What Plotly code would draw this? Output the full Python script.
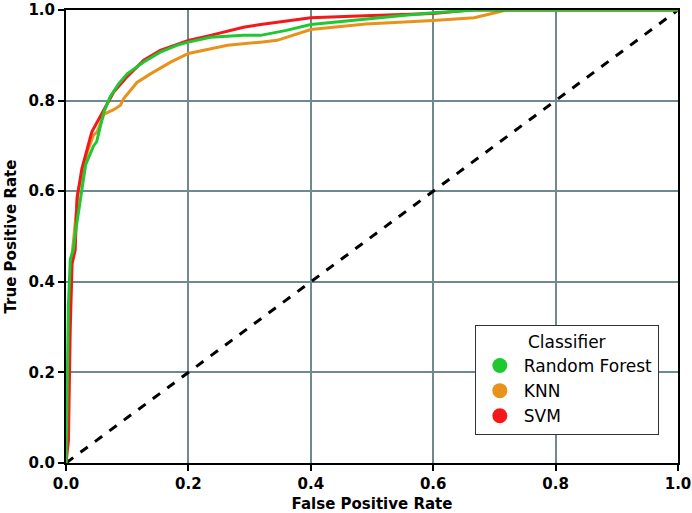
import plotly.graph_objects as go

# ROC curve points
rf_fpr = [0.0, 0.002, 0.004, 0.007, 0.012, 0.015, 0.02, 0.023, 0.032, 0.045, 0.05, 0.062,
          0.072, 0.086, 0.1, 0.127, 0.154, 0.181, 0.2, 0.236, 0.29, 0.318, 0.36, 0.4,
          0.45, 0.5, 0.55, 0.6, 0.67, 1.0]
rf_tpr = [0.0, 0.21, 0.35, 0.45, 0.47, 0.505, 0.55, 0.578, 0.658, 0.7, 0.709, 0.775,
          0.808, 0.837, 0.859, 0.885, 0.907, 0.922, 0.929, 0.94, 0.944, 0.944, 0.955, 0.968,
          0.975, 0.982, 0.988, 0.994, 1.0, 1.0]

knn_fpr = [0.0, 0.003, 0.006, 0.009, 0.013, 0.02, 0.035, 0.045, 0.051, 0.062, 0.078,
           0.089, 0.094, 0.116, 0.138, 0.171, 0.2, 0.236, 0.264, 0.318, 0.345, 0.4,
           0.49, 0.6, 0.667, 0.72, 1.0]
knn_tpr = [0.0, 0.12, 0.3, 0.45, 0.5, 0.6, 0.687, 0.724, 0.731, 0.77, 0.78,
           0.79, 0.804, 0.84, 0.859, 0.885, 0.904, 0.914, 0.922, 0.929, 0.933, 0.957,
           0.969, 0.977, 0.983, 1.0, 1.0]

svm_fpr = [0.0, 0.004, 0.007, 0.01, 0.015, 0.018, 0.026, 0.042, 0.045, 0.062, 0.078,
           0.1, 0.127, 0.154, 0.2, 0.236, 0.29, 0.318, 0.36, 0.4, 0.5, 0.6, 0.66, 1.0]
svm_tpr = [0.0, 0.05, 0.3, 0.44, 0.47, 0.585, 0.65, 0.73, 0.738, 0.78, 0.819,
           0.853, 0.889, 0.911, 0.933, 0.944, 0.962, 0.968, 0.976, 0.983, 0.988, 0.992, 1.0, 1.0]

chance = [0.0, 1.0]

tick_vals = [0.0, 0.2, 0.4, 0.6, 0.8, 1.0]
tick_text = ["0.0", "0.2", "0.4", "0.6", "0.8", "1.0"]

GREEN = "#1ec831"
ORANGE = "#e8921a"
RED = "#f5181a"
GRID = "#6f8a8f"

fig = go.Figure()

# chance line
fig.add_trace(go.Scatter(x=chance, y=chance, mode="lines", showlegend=False,
                         line=dict(color="black", width=3, dash="dash")))

curves = [
    ("KNN", knn_fpr, knn_tpr, ORANGE),
    ("SVM", svm_fpr, svm_tpr, RED),
    ("Random Forest", rf_fpr, rf_tpr, GREEN),
]
for name, fx, ty, col in curves:
    fig.add_trace(go.Scatter(x=fx, y=ty, mode="lines", name=name, showlegend=False,
                             line=dict(color=col, width=3)))

# legend entries shown as dots
for rank, (name, col) in enumerate([("Random Forest", GREEN), ("KNN", ORANGE), ("SVM", RED)]):
    fig.add_trace(go.Scatter(x=[None], y=[None], mode="markers", name=name,
                             legendrank=rank + 1,
                             marker=dict(color=col, size=15)))

axis_common = dict(
    range=[0, 1],
    tickvals=tick_vals,
    ticktext=tick_text,
    automargin=False,
    ticklabeloverflow="allow",
    showgrid=True,
    gridcolor=GRID,
    gridwidth=1.5,
    showline=True,
    linecolor="black",
    linewidth=2,
    mirror=True,
    ticks="outside",
    ticklen=6,
    tickwidth=2,
    tickcolor="black",
    zeroline=False,
    tickfont=dict(family="DejaVu Sans", size=15, color="black", weight="bold"),
)

title_font = dict(family="DejaVu Sans", size=15, color="black", weight="bold")

fig.update_xaxes(title=dict(text="False Positive Rate", font=title_font, standoff=8),
                 **axis_common)
fig.update_yaxes(title=dict(text="True Positive Rate", font=title_font, standoff=8),
                 **axis_common)

fig.update_layout(
    width=692,
    height=513,
    margin=dict(l=66, r=14, t=10, b=50),
    plot_bgcolor="white",
    paper_bgcolor="white",
    legend=dict(
        title=dict(text="Classifier", side="top center",
                   font=dict(family="DejaVu Sans", size=17, color="black")),
        font=dict(family="DejaVu Sans", size=17, color="black"),
        x=0.668, y=0.062, xanchor="left", yanchor="bottom",
        bgcolor="white",
        bordercolor="#333333",
        borderwidth=1,
        itemwidth=38,
    ),
)

# drop the default page margin so the figure sits at the window's corner
fig.write_html("out.html", config={"displayModeBar": False},
               post_script="document.body.style.margin='0';")
